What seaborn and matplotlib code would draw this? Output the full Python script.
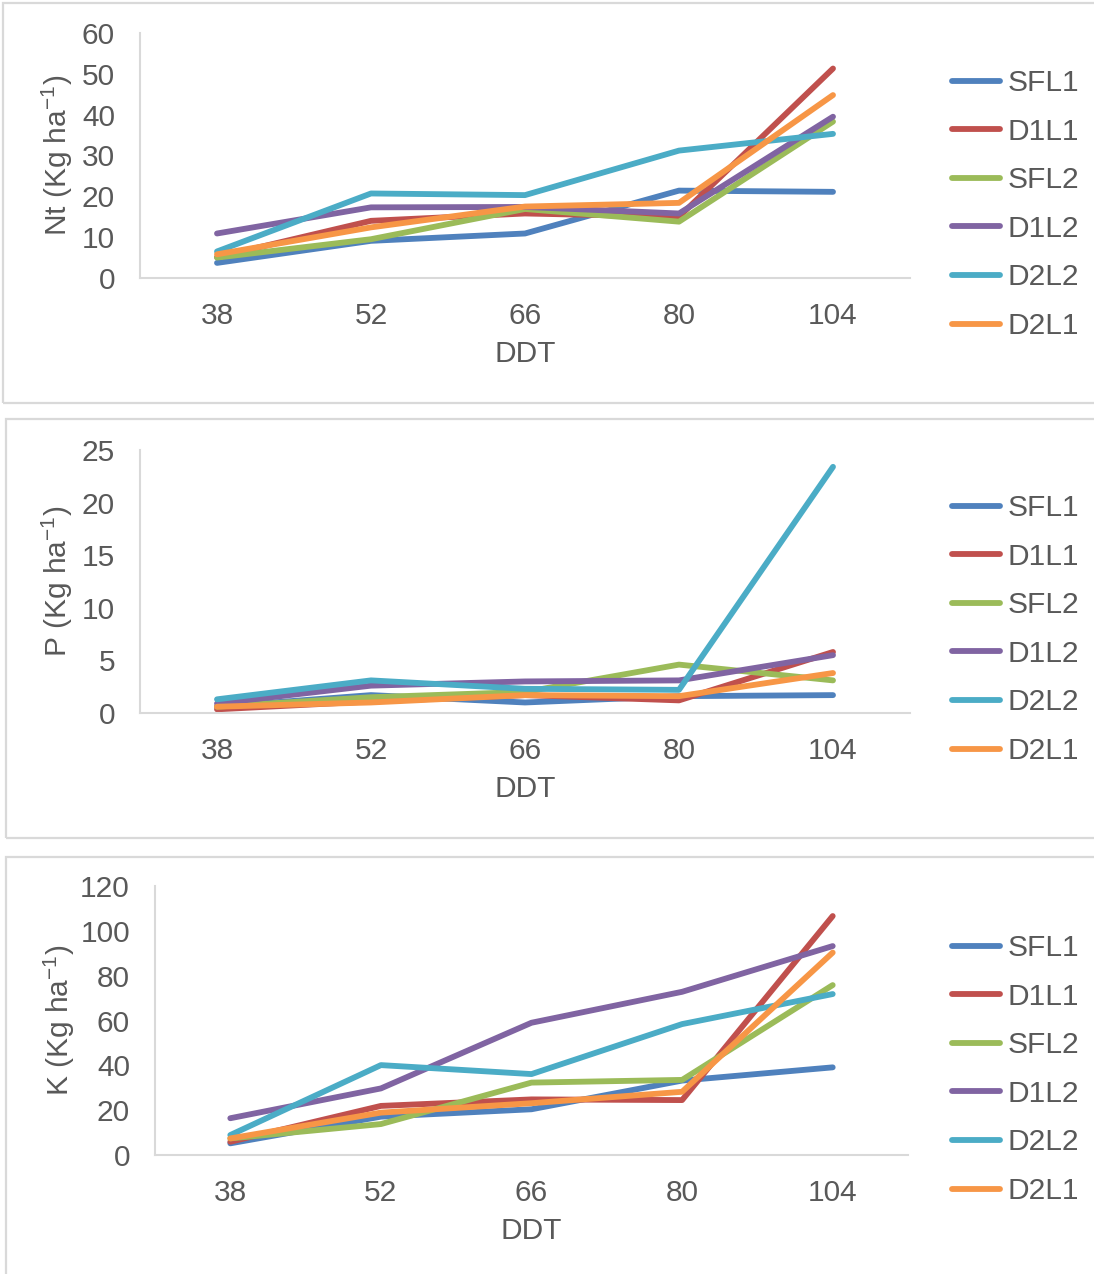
import matplotlib
matplotlib.use("Agg")
import matplotlib.pyplot as plt
import numpy as np
import pandas as pd
import seaborn as sns
from matplotlib.patches import Rectangle

sns.set_style("white")
plt.rcParams["font.family"] = ["Liberation Sans", "DejaVu Sans"]
plt.rcParams["mathtext.fontset"] = "custom"
plt.rcParams["mathtext.rm"] = "Liberation Sans"
plt.rcParams["mathtext.it"] = "Liberation Sans"

# ---- data ----
days = ["38", "52", "66", "80", "104"]
treatments = ["SFL1", "D1L1", "SFL2", "D1L2", "D2L2", "D2L1"]
colors = ["#4F81BD", "#C0504D", "#9BBB59", "#8064A2", "#4BACC6", "#F79646"]

nt_sfl1 = [3.7, 9.1, 10.9, 21.4, 21.1]
nt_d1l1 = [5.1, 14.0, 15.8, 15.0, 51.3]
nt_sfl2 = [5.0, 9.5, 16.9, 13.8, 38.3]
nt_d1l2 = [10.9, 17.3, 17.4, 15.8, 39.5]
nt_d2l2 = [6.5, 20.7, 20.3, 31.2, 35.3]
nt_d2l1 = [5.8, 12.4, 17.5, 18.4, 44.8]

p_sfl1 = [0.6, 1.7, 1.0, 1.6, 1.7]
p_d1l1 = [0.35, 1.1, 1.7, 1.2, 5.8]
p_sfl2 = [0.6, 1.5, 2.0, 4.6, 3.1]
p_d1l2 = [0.9, 2.6, 3.0, 3.1, 5.5]
p_d2l2 = [1.3, 3.1, 2.3, 2.2, 23.4]
p_d2l1 = [0.6, 1.0, 1.7, 1.6, 3.8]

k_sfl1 = [5.2, 17.1, 20.4, 33.2, 39.1]
k_d1l1 = [5.9, 21.9, 24.8, 24.5, 106.6]
k_sfl2 = [7.4, 13.8, 32.3, 33.5, 75.8]
k_d1l2 = [16.4, 29.7, 59.0, 72.8, 93.2]
k_d2l2 = [8.9, 40.1, 36.1, 58.4, 71.8]
k_d2l1 = [7.4, 18.9, 23.1, 28.2, 90.3]

panels = [
    ("Nt", [nt_sfl1, nt_d1l1, nt_sfl2, nt_d1l2, nt_d2l2, nt_d2l1], 60, 10),
    ("P", [p_sfl1, p_d1l1, p_sfl2, p_d1l2, p_d2l2, p_d2l1], 25, 5),
    ("K", [k_sfl1, k_d1l1, k_sfl2, k_d1l2, k_d2l2, k_d2l1], 120, 20),
]

W, H = 1094, 1274
fig = plt.figure(figsize=(W / 100, H / 100), dpi=100)

# axes boxes in pixels: left, right, top, bottom
ax_px = [(140, 910, 33, 278), (140, 910, 450, 713), (155, 908, 886, 1155)]
box_px = [(3, 3, 1120, 400), (6, 419, 1120, 419), (6, 857, 1120, 440)]
legend_top = [69, 494, 934]
ylabel_x = [75, 75, 77]

text_col = "#595959"
axis_col = "#D9D9D9"
fs = 21.5

for (name, series, ymax, step), (l, r, t, b), (bx, by, bw, bh), lt, ylx in zip(
        panels, ax_px, box_px, legend_top, ylabel_x):
    fig.patches.append(Rectangle((bx / W, 1 - (by + bh) / H), bw / W, bh / H,
                                 transform=fig.transFigure, fill=False,
                                 edgecolor=axis_col, lw=1.6, zorder=0))
    ax = fig.add_axes([l / W, 1 - b / H, (r - l) / W, (b - t) / H])

    df = pd.DataFrame({
        "DDT": np.tile(days, len(treatments)),
        "value": np.concatenate(series),
        "trat": np.repeat(treatments, len(days)),
    })
    sns.lineplot(data=df, x="DDT", y="value", hue="trat", hue_order=treatments,
                 palette=colors, sort=False, lw=4.2, ax=ax,
                 solid_capstyle="round", solid_joinstyle="round")

    ax.set_xlim(-0.5, len(days) - 0.5)
    ax.set_ylim(0, ymax)
    ax.set_yticks(np.arange(0, ymax + 1, step))
    for s in ["top", "right"]:
        ax.spines[s].set_visible(False)
    for s in ["left", "bottom"]:
        ax.spines[s].set_color(axis_col)
        ax.spines[s].set_linewidth(1.5)
    ax.tick_params(length=0, labelsize=fs, labelcolor=text_col)
    ax.tick_params(axis="y", pad=18)
    ax.tick_params(axis="x", pad=17.5)

    ax.set_xlabel("DDT", fontsize=fs, color=text_col)
    ax.xaxis.set_label_coords(0.5, -62 / (b - t))
    ax.set_ylabel(name + r" (Kg ha$^{-1}$)", fontsize=fs, color=text_col)
    ax.yaxis.set_label_coords((ylx - l) / (r - l), 0.5)

    leg = ax.legend(loc="upper left", bbox_to_anchor=(952 / W, 1 - lt / H),
                    bbox_transform=fig.transFigure, frameon=False, fontsize=fs,
                    handlelength=1.6, handletextpad=0.25, labelspacing=0.69,
                    borderaxespad=0, borderpad=0)
    for txt in leg.get_texts():
        txt.set_color(text_col)
    for ln in leg.get_lines():
        ln.set_linewidth(4.2)
        ln.set_solid_capstyle("round")

fig.savefig("out.png", dpi=100, facecolor="white")
